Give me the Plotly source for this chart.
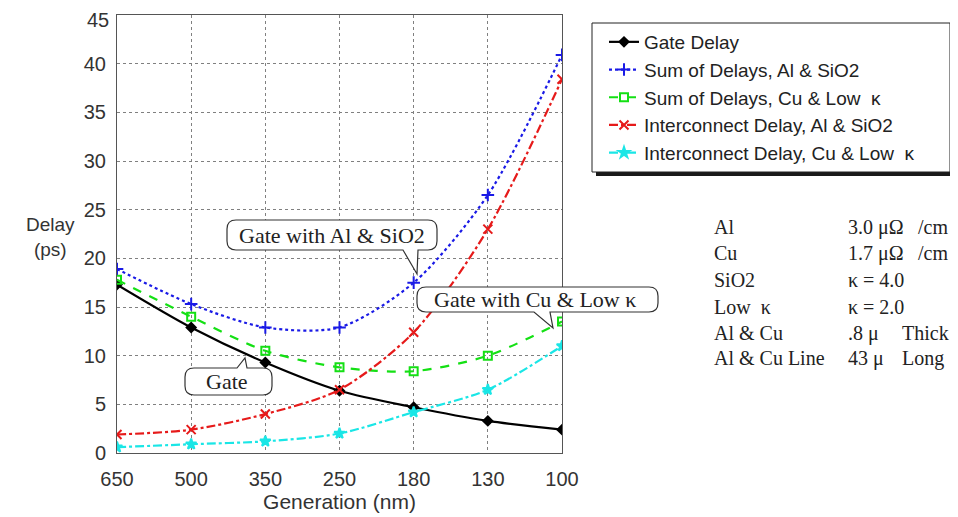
import plotly.graph_objects as go

generations = ["650", "500", "350", "250", "180", "130", "100"]
gate_delay = [17.3, 12.9, 9.3, 6.4, 4.7, 3.3, 2.4]
sum_al_sio2 = [18.9, 15.3, 12.9, 12.9, 17.5, 26.5, 40.9]
sum_cu_lowk = [17.8, 14.0, 10.5, 8.8, 8.4, 10.0, 13.5]
int_al_sio2 = [1.9, 2.4, 4.0, 6.5, 12.4, 23.0, 38.4]
int_cu_lowk = [0.6, 0.9, 1.2, 2.0, 4.2, 6.5, 11.0]
y_ticks = [0, 5, 10, 15, 20, 25, 30, 35, 40, 45]

table_labels = ["Al", "Cu", "SiO2", "Low  κ", "Al & Cu", "Al & Cu Line"]
table_values = ["3.0 μΩ", "1.7 μΩ", "κ = 4.0", "κ = 2.0", ".8 μ", "43 μ"]
table_units = ["/cm", "/cm", "", "", "Thick", "Long"]

# page offset (browser body margin) compensation
OFF = 8
W, H = 958 - OFF, 517 - OFF
L, R, T, B = 117, 562, 15, 453  # plot area in reference pixels


def px(x):
    return (x - L) / (R - L)


def py(y):
    return (B - y) / (B - T)


fig = go.Figure()

series = [
    ("Gate Delay", gate_delay, "#000000", "solid", "diamond", 7),
    ("Sum of Delays, Al & SiO2", sum_al_sio2, "#1a1ae6", "dot", "cross-thin", 9),
    ("Sum of Delays, Cu & Low  κ", sum_cu_lowk, "#14e014", "dash", "square-open", 8),
    ("Interconnect Delay, Al & SiO2", int_al_sio2, "#e61a1a", "dashdot", "x-thin", 9),
    ("Interconnect Delay, Cu & Low  κ", int_cu_lowk, "#1ae6e6", "dashdot", "star", 8),
]
for name, vals, col, dash, sym, size in series:
    fig.add_trace(go.Scatter(
        x=generations, y=vals, name=name, mode="lines+markers",
        line=dict(color=col, dash=dash, width=2.2, shape="spline", smoothing=0.8),
        marker=dict(symbol=sym, size=size, color=col,
                    line=dict(color=col, width=2)),
    ))

shapes = []


def callout(x0, y0, x1, y1, wedge, r=9):
    side, a, b, tx, ty = wedge
    p = "M {},{} ".format(px(x0 + r), py(y0))
    if side == "top":
        p += "L {},{} L {},{} L {},{} ".format(px(a), py(y0), px(tx), py(ty), px(b), py(y0))
    p += "L {},{} ".format(px(x1 - r), py(y0))
    p += "Q {},{} {},{} ".format(px(x1), py(y0), px(x1), py(y0 + r))
    p += "L {},{} ".format(px(x1), py(y1 - r))
    p += "Q {},{} {},{} ".format(px(x1), py(y1), px(x1 - r), py(y1))
    if side == "bottom":
        p += "L {},{} L {},{} L {},{} ".format(px(b), py(y1), px(tx), py(ty), px(a), py(y1))
    p += "L {},{} ".format(px(x0 + r), py(y1))
    p += "Q {},{} {},{} ".format(px(x0), py(y1), px(x0), py(y1 - r))
    p += "L {},{} ".format(px(x0), py(y0 + r))
    p += "Q {},{} {},{} Z".format(px(x0), py(y0), px(x0 + r), py(y0))
    shapes.append(dict(type="path", path=p, xref="paper", yref="paper",
                       line=dict(color="#333", width=1.2), fillcolor="white",
                       layer="above"))


callout(227, 220, 437, 250, ("bottom", 403, 418, 417, 274))
callout(417, 287, 658, 312, ("bottom", 534, 550, 553, 328))
callout(185, 368, 272, 395, ("top", 237, 247, 245, 358))

# legend box + shadow
shapes.append(dict(type="rect", xref="paper", yref="paper",
                   x0=px(596), x1=px(954), y0=py(27), y1=py(176),
                   fillcolor="#1a1a1a", line=dict(width=0), layer="below"))
shapes.append(dict(type="rect", xref="paper", yref="paper",
                   x0=px(592), x1=px(950), y0=py(23), y1=py(172),
                   fillcolor="white", line=dict(color="#222", width=1), layer="below"))

cf = dict(family="Liberation Serif", size=22, color="#222")
annotations = [
    dict(text="Gate with Al & SiO2", x=px(332), y=py(235), font=cf),
    dict(text="Gate with Cu & Low κ", x=px(535), y=py(299), font=cf),
    dict(text="Gate", x=px(227), y=py(381), font=cf),
]
annotations = [dict(a, xref="paper", yref="paper", showarrow=False,
                    xanchor="center", yanchor="middle") for a in annotations]

rows_y = [227, 253, 280, 307, 333, 358]
tf = dict(family="Liberation Serif", size=20, color="#222")
for lab, val, unit, yy in zip(table_labels, table_values, table_units, rows_y):
    for txt, xx in ((lab, 712), (val, 846), (unit, 900 if unit in ("Thick", "Long") else 916)):
        if txt:
            annotations.append(dict(text=txt, x=px(xx), y=py(yy), xref="paper", yref="paper",
                                    showarrow=False, xanchor="left", yanchor="middle",
                                    font=tf))

annotations.append(dict(text="Delay<br>(ps)", x=px(50), y=py(237), xref="paper", yref="paper",
                        showarrow=False, xanchor="center", yanchor="middle",
                        font=dict(family="Liberation Sans", size=19, color="#333")))

axfont = dict(family="Liberation Sans", size=20, color="#333")

# top tick label drawn slightly lower (as in the reference) so it stays inside the page
top_tick = y_ticks[-1]
y_ticktext = [str(v) if v != top_tick else "" for v in y_ticks]
annotations.append(dict(text=str(top_tick), x=0, y=py(20), xref="paper", yref="paper",
                        showarrow=False, xanchor="right", yanchor="middle", xshift=-6,
                        font=axfont))

fig.update_layout(
    width=W, height=H,
    margin=dict(l=L - OFF, r=W - (R - OFF), t=T - OFF, b=H - (B - OFF), autoexpand=False),
    paper_bgcolor="white", plot_bgcolor="white",
    showlegend=True,
    legend=dict(x=px(604), y=py(23), xanchor="left", yanchor="top",
                bgcolor="rgba(0,0,0,0)", borderwidth=0,
                font=dict(family="Liberation Sans", size=19, color="#222"),
                itemwidth=30, tracegroupgap=0),
    shapes=shapes, annotations=annotations,
    xaxis=dict(type="category", categoryorder="array", categoryarray=generations,
               range=[0, len(generations) - 1],
               showgrid=True, gridcolor="#808080", griddash="dot", gridwidth=1,
               showline=True, mirror=True, linecolor="#555", linewidth=1,
               ticks="", tickfont=axfont, ticklabelstandoff=8,
               title=dict(text="Generation (nm)", standoff=4,
                          font=dict(family="Liberation Sans", size=21, color="#333")),
               zeroline=False),
    yaxis=dict(range=[0, 45], tickvals=y_ticks, ticktext=y_ticktext,
               showgrid=True, gridcolor="#808080", griddash="dot", gridwidth=1,
               showline=True, mirror=True, linecolor="#555", linewidth=1,
               ticks="", tickfont=axfont, ticklabelstandoff=6,
               zeroline=False),
)

fig.write_html("out.html")
